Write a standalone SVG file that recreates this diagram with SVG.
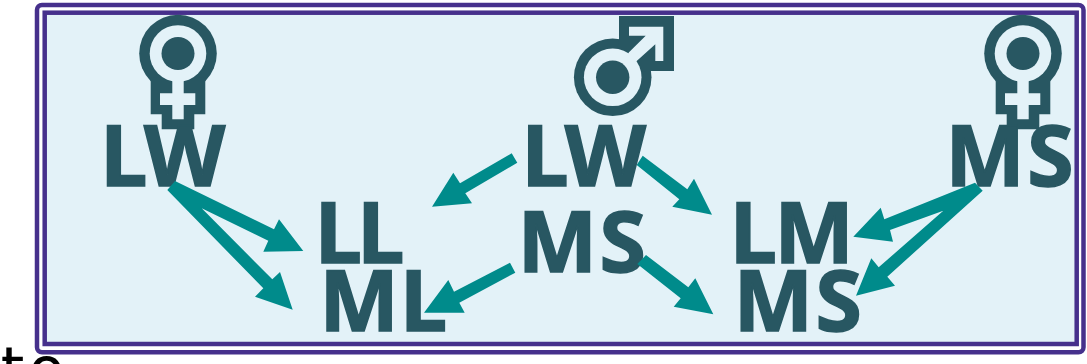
<svg xmlns="http://www.w3.org/2000/svg" width="1087" height="364" viewBox="0 0 1087 364">
<style>
.l{font-family:"Open Sans","Noto Sans",sans-serif;font-weight:700;font-size:84px;fill:#285762;stroke:#285762;stroke-width:1.6}
.h{fill:#008b8b}
.d{fill:#285762}
.b{fill:#e3f2f8}
</style>
<defs>
<g id="female">
<circle r="38.8" class="d"/>
<path class="d" d="M-27.3 24V60.8H-16.3V75.8H16.3V60.8H27.3V24Z"/>
<circle r="28.3" class="b"/>
<path class="b" d="M-5.7 0H5.7V39.8H17.3V51.5H5.7V65.8H-5.7V51.5H-18V39.8H-5.7Z"/>
<circle r="16.5" class="d"/>
</g>
</defs>
<rect x="37" y="5" width="1046.5" height="347.3" rx="5" fill="#fff" stroke="#46308c" stroke-width="4.5"/>
<rect x="44.7" y="12.7" width="1032" height="331.3" class="b" stroke="#46308c" stroke-width="4.5"/>
<g id="n-female-left"><use href="#female" x="178" y="53.5"/></g>
<g id="n-male">
<circle cx="612.7" cy="77.3" r="38.8" class="d"/>
<path class="d" d="M619 16H674V71H646L612.7 77.3L619 40Z"/>
<circle cx="612.7" cy="77.3" r="28.8" class="b"/>
<path class="b" d="M629 26.7H663.3V61H655.3V44.3L636.7 61L612.7 77.3L629 52.3L645.7 35.7H629Z"/>
<circle cx="612.7" cy="77.3" r="16.7" class="d"/>
</g>
<g id="n-female-right"><use href="#female" x="1023" y="53.5"/></g>
<g id="n-lw1"><text class="l" x="100" y="186" letter-spacing="-3.5">LW</text></g>
<g id="n-lw2"><text class="l" x="521.3" y="186" letter-spacing="-4">LW</text></g>
<g id="n-ms1"><text class="l" x="945.5" y="186" letter-spacing="2.5">MS</text></g>
<g id="n-ll"><text class="l" x="314.5" y="262.7" letter-spacing="-5">LL</text></g>
<g id="n-ml"><text class="l" x="319.5" y="331.3" letter-spacing="1">ML</text></g>
<g id="n-ms2"><text class="l" x="517.8" y="271.7" letter-spacing="2.5">MS</text></g>
<g id="n-lm"><text class="l" x="729.5" y="262.7" letter-spacing="-2.5">LM</text></g>
<g id="n-ms3"><text class="l" x="733.8" y="331.3" letter-spacing="2.5">MS</text></g>
<text x=".7" y="390" font-family="DejaVu Sans,sans-serif" font-size="60" fill="#000">t<tspan dx="4">o</tspan></text>
<g id="connectors">
<path class="h" d="M175 181L274 229.3L279 219.3L303.3 251L263.3 251.7L268.3 240.7L201.7 208.3L272.3 279.3L280 272L292.7 309.7L255 296.7L263.3 288.3L167.3 190Z"/>
<path class="h" d="M511.7 153.3L460 183.3L453.3 172.7L432 206.7L472 203.3L465.3 193.3L517.3 162.7Z"/>
<path class="h" d="M642.7 155.7L687.3 189.3L694 178.7L712 214.7L672.3 206.7L679.3 199.3L636.7 165Z"/>
<path class="h" d="M510 262.7L454 291.7L448.3 280L424 312.7L464.7 312.7L459.3 302.7L515.3 272.7Z"/>
<path class="h" d="M646 255L688.3 287.3L695.3 278.3L713.3 314.3L673.7 306.7L680.7 298.3L637.3 264Z"/>
<path class="h" d="M975 182.7L884.3 219.3L880.7 207.7L853.3 236.7L893 241.7L890 230L943.3 210.7L878.7 267.3L871.3 258.3L856 295.7L895 285.7L887.3 276.7L982.7 190.7Z"/>
</g>
</svg>
